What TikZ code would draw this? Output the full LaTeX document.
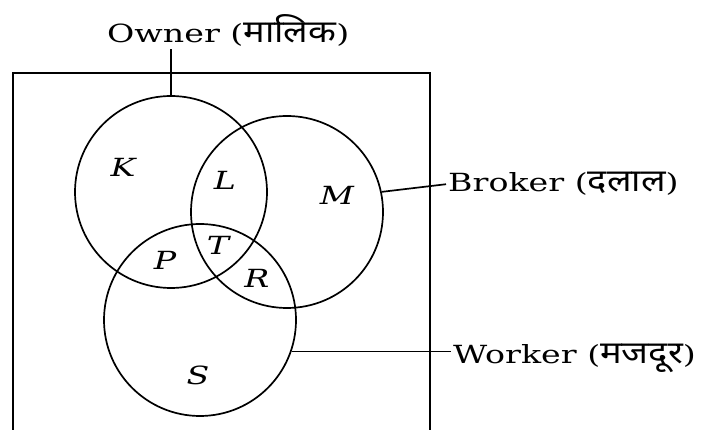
\documentclass[tikz,border=0pt]{standalone}
\usepackage{fontspec}
\setmainfont[FakeStretch=1.33]{DejaVu Serif}
\newfontfamily\hindi[Script=Devanagari,Scale=1.25,FakeStretch=1.16]{Noto Sans}
\usetikzlibrary{positioning}
\tikzset{
  setcirc/.style={draw,circle,minimum size=192pt,inner sep=0pt,line width=1.7pt},
  region/.style={font=\fontsize{25}{25}\selectfont\itshape,inner sep=0pt},
  setlbl/.style={font=\fontsize{25}{28}\selectfont,inner sep=2pt},
  lead/.style={line width=1.7pt},
}

\begin{document}
\begin{tikzpicture}[x=1pt,y=-1pt]
\useasboundingbox (0,0) rectangle (707,430);
% universe box, open at the bottom
\draw[lead] (13,430) |- (430,73) -- (430,430);
% the three sets
\node[setcirc] (owner) at (171,192) {};
\node[setcirc] (broker) at (287,212) {};
\node[setcirc] (worker) at (200,320) {};
% regions
\node[region] (k) at (123,167) {K};
\node[region] (l) at (225,180) {L};
\node[region] (m) at (337,195) {M};
\node[region] (t) at (218,245) {T};
\node[region] (p) at (165,260) {P};
\node[region] (r) at (257,278) {R};
\node[region] (s) at (198,375) {S};
% set names
\node[setlbl,anchor=base west] (ownerlbl) at (105,43) {Owner ({\hindi मालिक})};
\node[setlbl,anchor=base west] (brokerlbl) at (446,192) {Broker ({\hindi दलाल})};
\node[setlbl,anchor=base west] (workerlbl) at (451,363) {Worker ({\hindi मजदूर})};
\draw[lead] (owner.north) -- (owner.north |- ownerlbl.south);
\draw[lead] (broker.12) -- (brokerlbl.west);
\draw[lead] (worker.-19.5) -- (worker.-19.5 -| workerlbl.west);
\end{tikzpicture}
\end{document}
